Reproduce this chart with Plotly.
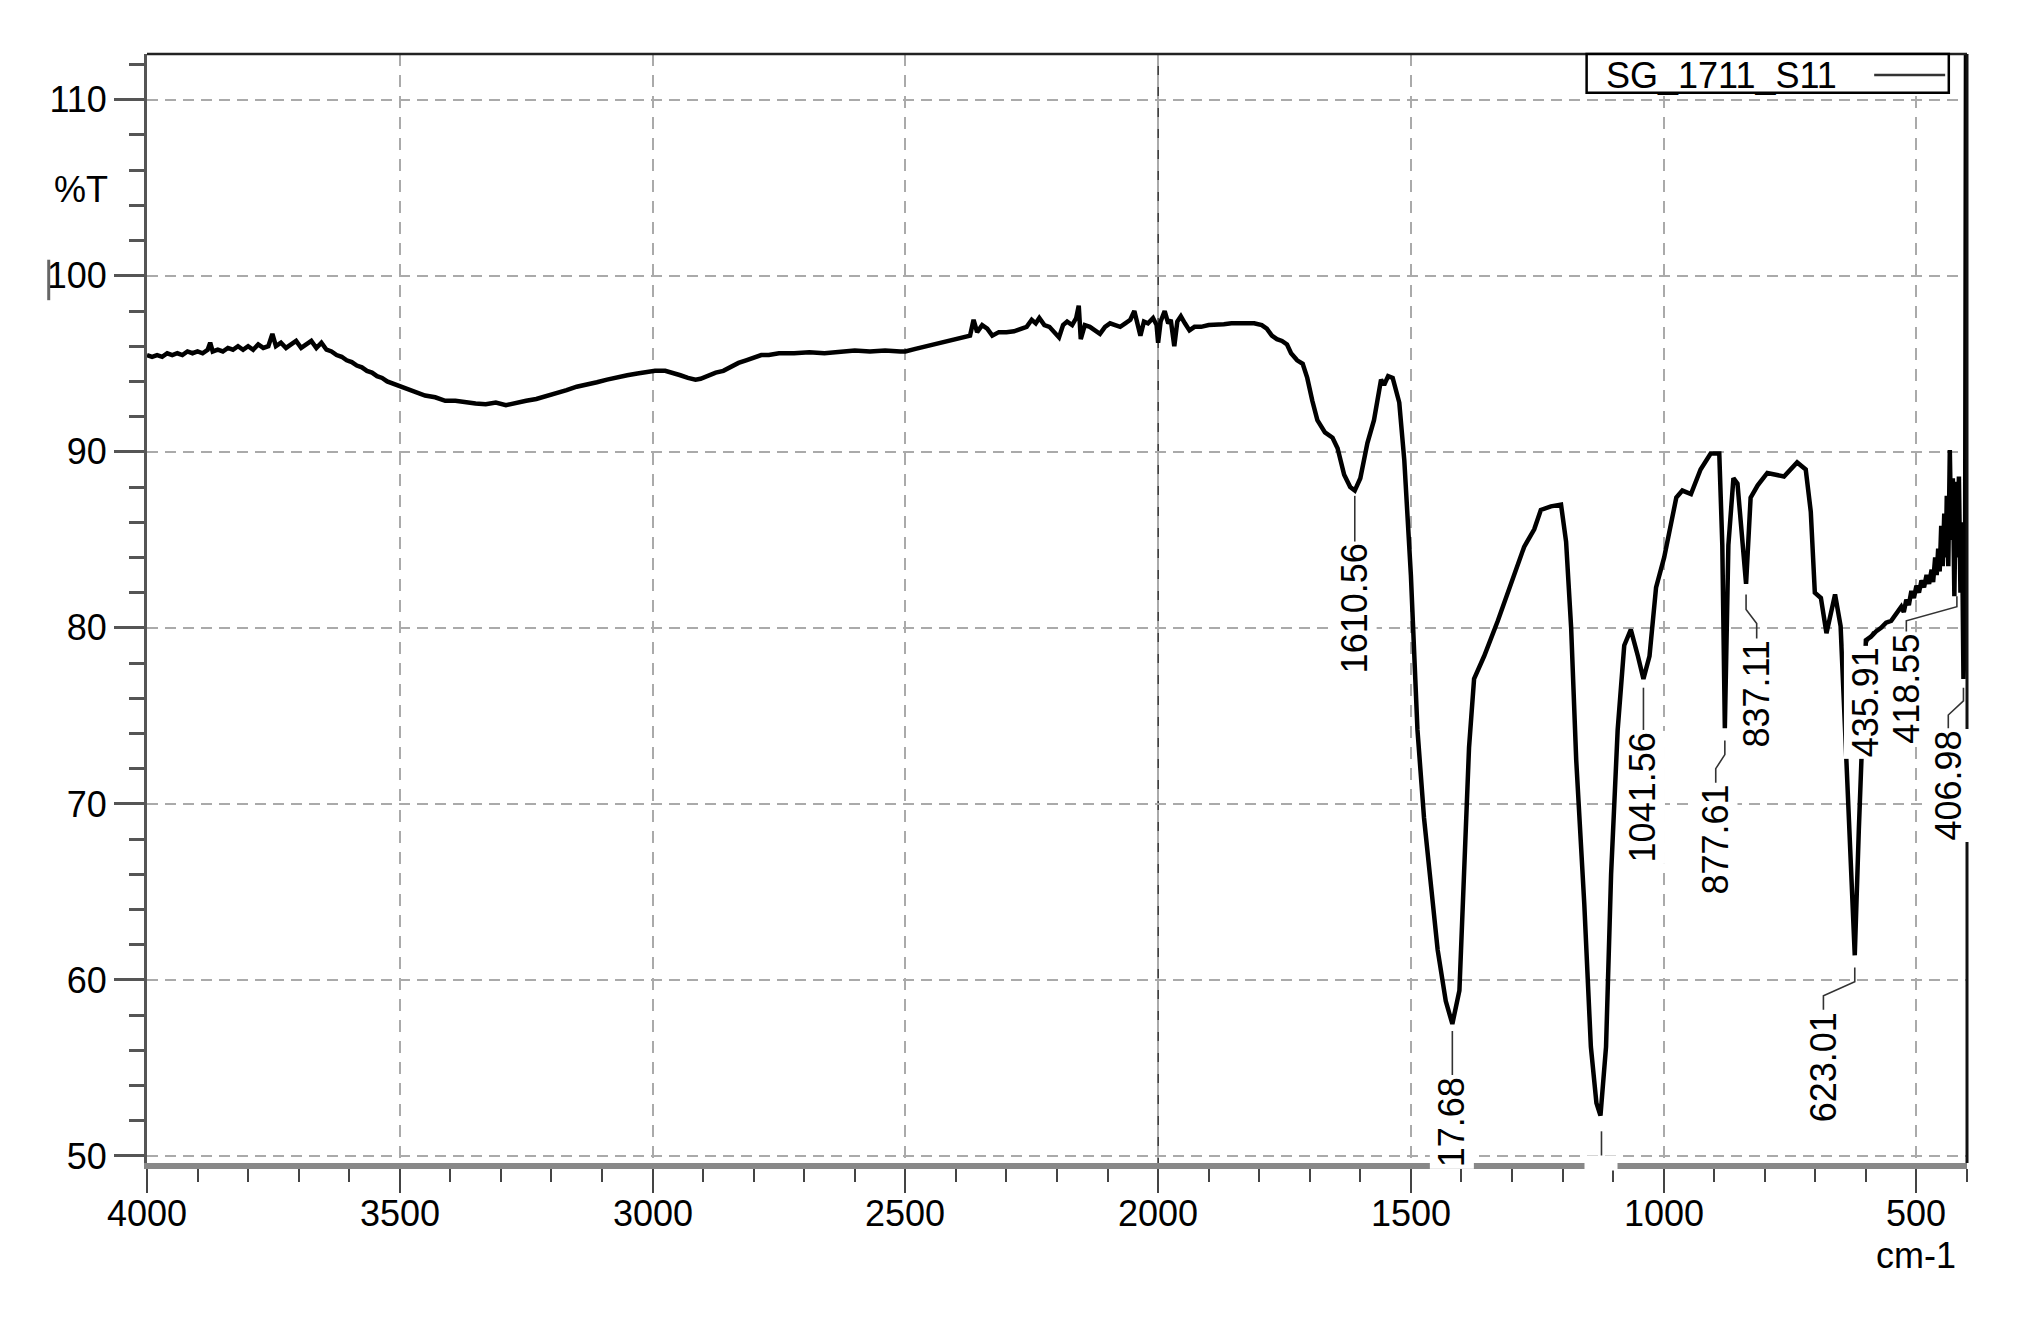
"""FTIR spectrum of sample SG_1711_S11 with peak labels."""
import plotly.graph_objects as go

# Spectrum: wavenumber (cm-1) and transmittance (%T)
wavenumber = [
    4000, 3990, 3980, 3970, 3960, 3950, 3940, 3930, 3920, 3910, 3900, 3890, 3880, 3875,
    3870, 3860, 3850, 3840, 3830, 3820, 3810, 3800, 3790, 3780, 3770, 3760, 3752, 3745,
    3735, 3725, 3715, 3705, 3695, 3685, 3675, 3665, 3655, 3645, 3635, 3625, 3615, 3605,
    3595, 3585, 3575, 3565, 3555, 3545, 3535, 3525, 3515, 3505, 3490, 3470, 3450, 3430,
    3410, 3390, 3370, 3350, 3330, 3310, 3290, 3270, 3250, 3230, 3210, 3190, 3170, 3150,
    3130, 3110, 3090, 3070, 3050, 3030, 3010, 2995, 2975, 2960, 2945, 2930, 2915, 2905,
    2890, 2875, 2860, 2845, 2830, 2815, 2800, 2785, 2770, 2750, 2720, 2690, 2660, 2630,
    2600, 2570, 2540, 2510, 2500, 2480, 2460, 2440, 2420, 2400, 2385, 2372, 2365, 2358,
    2348, 2338, 2328, 2315, 2300, 2285, 2270, 2260, 2250, 2242, 2235, 2225, 2215, 2205,
    2196, 2188, 2180, 2170, 2162, 2157, 2153, 2145, 2135, 2125, 2115, 2105, 2095, 2085,
    2075, 2065, 2055, 2047, 2040, 2035, 2028, 2020, 2010, 2003, 2000, 1995, 1987, 1980,
    1975, 1968, 1962, 1955, 1947, 1938, 1928, 1915, 1900, 1885, 1870, 1855, 1840, 1825,
    1810, 1795, 1785, 1775, 1765, 1755, 1745, 1737, 1725, 1714, 1705, 1695, 1685, 1670,
    1655, 1645, 1632, 1620, 1611, 1600, 1586, 1573, 1559, 1553, 1545, 1536, 1523, 1513,
    1500, 1487, 1474, 1460, 1447, 1431, 1418, 1404, 1394, 1385, 1375, 1355, 1328, 1302,
    1276, 1256, 1243, 1223, 1203, 1193, 1183, 1173, 1157, 1144, 1133, 1125, 1114, 1104,
    1091, 1078, 1065, 1051, 1040, 1028, 1015, 999, 985, 975, 963, 946, 927, 907,
    890, 884, 879, 872, 862, 854, 837, 828, 814, 795, 762, 736, 719, 709,
    701, 689, 678, 661, 650, 637, 622, 614, 607, 600, 590, 580, 570, 560,
    550, 540, 530, 525, 520, 515, 510, 505, 500, 495, 490, 485, 480, 475,
    470, 467, 463, 460, 457, 454, 451, 448, 445, 442, 440, 437, 434, 431,
    428, 425, 422, 419, 416, 413, 410, 407, 404, 402,
]
transmittance = [
    95.5, 95.4, 95.5, 95.4, 95.6, 95.5, 95.6, 95.5, 95.7, 95.6, 95.7, 95.6, 95.8, 96.2,
    95.7, 95.8, 95.7, 95.9, 95.8, 96.0, 95.8, 96.0, 95.8, 96.1, 95.9, 96.0, 96.7, 96.0,
    96.2, 95.9, 96.1, 96.3, 95.9, 96.1, 96.3, 95.9, 96.2, 95.8, 95.7, 95.5, 95.4, 95.2,
    95.1, 94.9, 94.8, 94.6, 94.5, 94.3, 94.2, 94.0, 93.9, 93.8, 93.6, 93.4, 93.2, 93.1,
    92.9, 92.9, 92.8, 92.75, 92.7, 92.8, 92.65, 92.8, 92.9, 93.0, 93.15, 93.3, 93.5, 93.7,
    93.8, 93.95, 94.1, 94.25, 94.35, 94.45, 94.55, 94.6, 94.6, 94.5, 94.35, 94.2, 94.1, 94.15,
    94.35, 94.5, 94.6, 94.85, 95.05, 95.2, 95.35, 95.5, 95.5, 95.6, 95.6, 95.65, 95.6, 95.7,
    95.75, 95.7, 95.75, 95.7, 95.7, 95.85, 96.0, 96.1, 96.3, 96.4, 96.5, 96.6, 97.5, 96.8,
    97.2, 97.0, 96.6, 96.8, 96.8, 96.85, 97.0, 97.1, 97.5, 97.3, 97.6, 97.2, 97.1, 96.8,
    96.5, 97.2, 97.4, 97.2, 97.6, 98.3, 96.4, 97.2, 97.1, 96.9, 96.7, 97.1, 97.3, 97.2,
    97.1, 97.3, 97.5, 98.0, 97.3, 96.6, 97.4, 97.3, 97.6, 97.2, 96.2, 97.4, 98.0, 97.3,
    97.5, 96.0, 97.4, 97.7, 97.3, 96.9, 97.1, 97.1, 97.2, 97.2, 97.25, 97.3, 97.3, 97.25,
    97.3, 97.2, 97.0, 96.6, 96.4, 96.3, 96.1, 95.6, 95.2, 95.0, 94.2, 92.9, 91.8, 91.1,
    90.8, 90.2, 88.7, 88.0, 87.8, 88.5, 90.5, 91.8, 94.1, 93.8, 94.3, 94.2, 92.8, 89.5,
    83.0, 74.2, 69.2, 65.3, 61.7, 58.8, 57.5, 59.4, 66.0, 73.2, 77.1, 78.4, 80.4, 82.6,
    84.6, 85.6, 86.7, 86.9, 87.0, 84.9, 80.0, 72.5, 64.3, 56.2, 53.0, 52.3, 56.2, 66.0,
    74.2, 79.0, 79.9, 78.4, 77.1, 78.4, 82.3, 84.0, 86.0, 87.4, 87.8, 87.6, 89.0, 89.9,
    89.9, 84.7, 74.3, 84.7, 88.5, 88.2, 82.5, 87.4, 88.1, 88.8, 88.6, 89.4, 89.0, 86.6,
    82.0, 81.7, 79.7, 81.9, 80.1, 71.2, 61.4, 68.5, 73.9, 79.3, 79.5, 79.8, 80.0, 80.3,
    80.4, 80.8, 81.2, 80.9, 81.6, 81.3, 82.1, 81.7, 82.4, 82.0, 82.7, 82.3, 83.0, 82.5,
    83.3, 82.6, 84.0, 83.0, 84.5, 83.2, 85.8, 83.5, 86.5, 84.0, 87.5, 83.5, 90.1, 85.0,
    88.5, 81.8, 88.3, 84.0, 88.6, 82.0, 86.0, 77.1, 80.0, 113.0,
]

# Peak labels as printed on the chart (1417.68 is cut off by the axis)
peak_text = ["1610.56", "17.68", "1041.56", "877.61", "837.11", "623.01",
             "435.91", "418.55", "406.98"]
peak_wn = [1611, 1418, 1040, 879, 837, 622, 586, 420, 407]
peak_t = [87.5, 57.1, 76.6, 73.6, 81.9, 60.7, 79.8, 81.8, 76.6]
label_wn = [1611, 1418, 1040, 897, 816, 684, 600, 520, 437]
label_top = [84.9, 54.6, 74.2, 71.2, 79.4, 58.3, 79.0, 79.8, 74.3]

x_ticks = [4000, 3500, 3000, 2500, 2000, 1500, 1000, 500]
y_ticks = [50, 60, 70, 80, 90, 100, 110]

FONT = "Liberation Sans, Arial, sans-serif"
X_RANGE = [4000, 400]
Y_RANGE = [49.6, 112.6]

fig = go.Figure()

# leader lines from each peak to its label
for pw, pt, lw, lt in zip(peak_wn, peak_t, label_wn, label_top):
    if pw == lw:
        xs, ys = [pw, lw], [pt, lt]
    else:
        xs = [pw, pw, lw, lw]
        ys = [pt, (pt + lt) / 2 + 0.4, (pt + lt) / 2 - 0.4, lt]
    fig.add_trace(go.Scatter(x=xs, y=ys, mode="lines", showlegend=False,
                             line=dict(color="#333333", width=1.6), hoverinfo="skip"))

# unlabeled strongest band (label hidden below the axis)
fig.add_trace(go.Scatter(x=[1123, 1123], y=[51.4, 49.7], mode="lines", showlegend=False,
                         line=dict(color="#333333", width=1.6), hoverinfo="skip"))

# the spectrum itself
fig.add_trace(go.Scatter(
    x=wavenumber, y=transmittance, mode="lines", name="SG_1711_S11",
    line=dict(color="black", width=4.5), showlegend=False,
))

for txt, lw, lt in zip(peak_text, label_wn, label_top):
    fig.add_annotation(
        x=lw, y=lt, xref="x", yref="y", text=txt, showarrow=False,
        textangle=-90, xanchor="center", yanchor="top",
        bgcolor="white", borderpad=1,
        font=dict(family=FONT, size=36, color="black"),
    )
# white gap in the axis under the hidden label
fig.add_annotation(x=1123, y=49.6, xref="x", yref="y", text=" ", showarrow=False,
                   width=30, height=12, bgcolor="white", xanchor="center", yanchor="middle")

# x tick labels placed by hand so they sit close to the axis
for xv in x_ticks:
    fig.add_annotation(x=xv, y=-0.0451, xref="x", yref="paper", text=str(xv),
                       showarrow=False, xanchor="center", yanchor="middle",
                       font=dict(family=FONT, size=36, color="black"))

# solid line at 2000 cm-1
fig.add_shape(type="line", xref="x", yref="paper", x0=2000, x1=2000, y0=0, y1=1,
              line=dict(color="#222222", width=1.5), layer="below")
# top and right frame
fig.add_shape(type="line", xref="paper", yref="paper", x0=0, x1=1, y0=1, y1=1,
              line=dict(color="#222222", width=2.5))
fig.add_shape(type="line", xref="paper", yref="paper", x0=1, x1=1, y0=0, y1=1,
              line=dict(color="#111111", width=3))

# legend box drawn by hand (text first, then line sample)
fig.add_shape(type="rect", xref="paper", yref="paper", x0=0.791, x1=0.990, y0=0.965, y1=1.0,
              line=dict(color="black", width=2.5), fillcolor="white")
fig.add_annotation(x=0.8006, y=0.981, xref="paper", yref="paper", text="SG_1711_S11",
                   showarrow=False, xanchor="left", yanchor="middle",
                   font=dict(family=FONT, size=36, color="black"))
fig.add_shape(type="line", xref="paper", yref="paper", x0=0.949, x1=0.988, y0=0.981, y1=0.981,
              line=dict(color="#333333", width=2.5))

# axis captions
fig.add_annotation(x=-0.0365, y=104.9, xref="paper", yref="y", text="%T", showarrow=False,
                   xanchor="center", yanchor="middle", font=dict(family=FONT, size=36, color="black"))
fig.add_annotation(x=0.995, y=-0.083, xref="paper", yref="paper", text="cm-1", showarrow=False,
                   xanchor="right", yanchor="middle", font=dict(family=FONT, size=36, color="black"))
# stray cursor mark left of the 100 label
fig.add_shape(type="line", xref="paper", yref="paper", x0=-0.054, x1=-0.054, y0=0.778, y1=0.8145,
              line=dict(color="#666666", width=3))

fig.update_xaxes(
    range=X_RANGE, tickvals=x_ticks, ticks="outside", ticklen=24, tickwidth=2,
    tickcolor="#444444", showticklabels=False,
    minor=dict(dtick=100, ticks="outside", ticklen=13, tickwidth=2, tickcolor="#444444",
               showgrid=False, tick0=4000),
    showgrid=True, gridcolor="#aaaaaa", gridwidth=2, griddash="12px,9px",
    showline=True, linecolor="#888888", linewidth=6, zeroline=False,
)
fig.update_yaxes(
    range=Y_RANGE, tickvals=y_ticks, ticks="outside", ticklen=30, tickwidth=3,
    tickcolor="#555555", ticklabelstandoff=0,
    minor=dict(dtick=2, tick0=50, ticks="outside", ticklen=15, tickwidth=3,
               tickcolor="#555555", showgrid=False),
    showgrid=True, gridcolor="#aaaaaa", gridwidth=2, griddash="11px,7px",
    showline=True, linecolor="#555555", linewidth=3, zeroline=False,
    tickfont=dict(family=FONT, size=36, color="black"),
)

# page body has an 8px margin, so the figure is 16px smaller than the window
fig.update_layout(
    width=2017, height=1301,
    margin=dict(l=139, r=58, t=46, b=146),
    plot_bgcolor="white", paper_bgcolor="white",
    showlegend=False,
)

fig.write_html("out.html")
